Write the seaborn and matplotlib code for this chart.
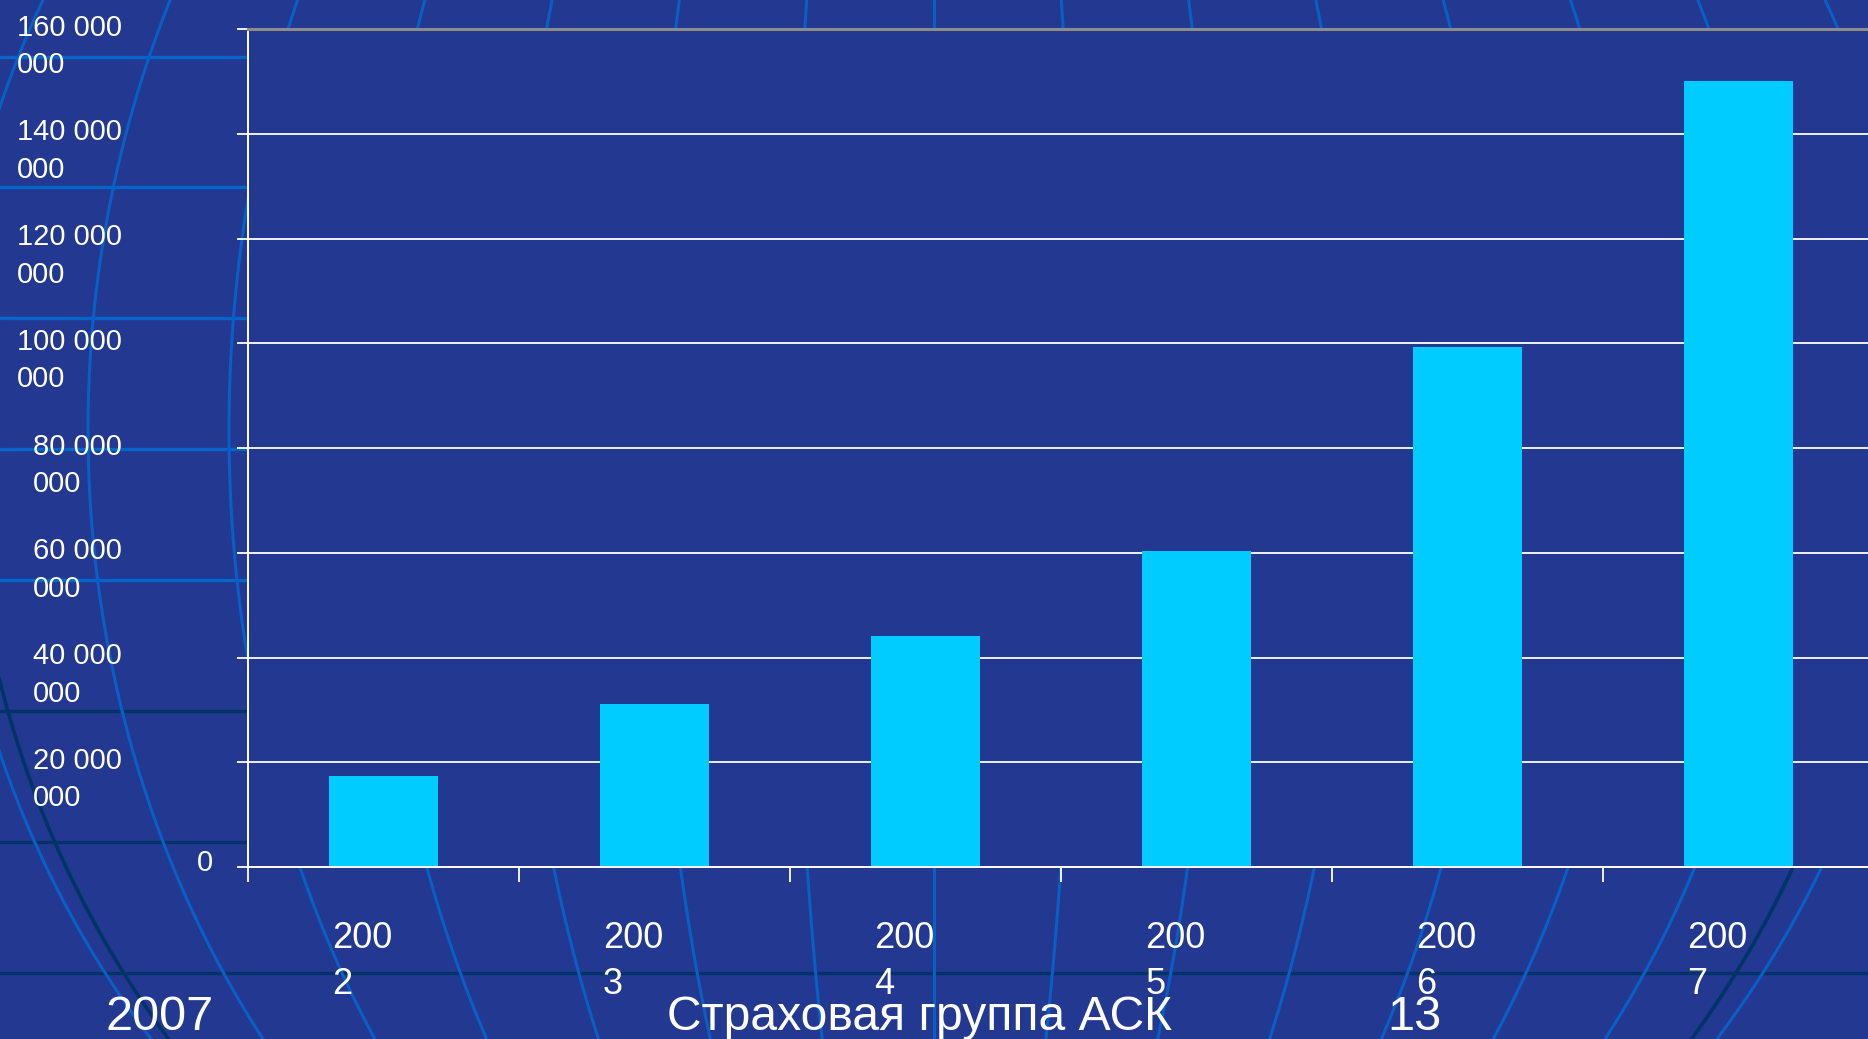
import numpy as np
import pandas as pd
import seaborn as sns
import matplotlib
matplotlib.use("Agg")
import matplotlib.pyplot as plt

# данные диаграммы
years = ["2002", "2003", "2004", "2005", "2006", "2007"]
values = [17_400_000, 31_100_000, 44_100_000, 60_400_000, 99_300_000, 150_000_000]
y_ticks = [0, 20_000_000, 40_000_000, 60_000_000, 80_000_000,
           100_000_000, 120_000_000, 140_000_000, 160_000_000]
footer_left = "2007"
footer_mid = "Страховая группа АСК"
footer_right = "13"

BG = "#233890"
BAR = "#00CCFF"

sns.set_theme(style="white")
plt.rcParams['font.family'] = ['Liberation Sans', 'DejaVu Sans']

W, H = 1868, 1039
fig = plt.figure(figsize=(W / 100, H / 100), dpi=100, facecolor=BG)

# фон слайда: "глобус" из линий
bg = fig.add_axes([0, 0, 1, 1], zorder=0)
bg.set_xlim(0, W)
bg.set_ylim(H, 0)
bg.axis("off")
bg.set_facecolor(BG)
for yy, col in [(57, "#0066cc"), (187, "#0066cc"), (318, "#0066cc"), (449, "#0066cc"),
                (580, "#0066cc"), (711, "#003468"), (842, "#003468"), (973, "#003468")]:
    bg.axhline(yy, color=col, lw=2.4)
ys = np.linspace(0, H, 300)
f = np.sqrt(1 - ((ys - 430) / 1000) ** 2)
for d in np.arange(-7, 8) * 141:
    bg.plot(934 + d * f, ys, color="#0a5ec4", lw=2.2)
m = ys > 560
bg.plot(934 - 965 * f[m], ys[m], color="#003468", lw=2.6)
m = ys > 650
bg.plot(934 + 955 * f[m], ys[m], color="#003468", lw=2.6)

# сама диаграмма
ax = fig.add_axes([248 / W, (H - 867) / H, 1626 / W, 838 / H], zorder=1)
ax.set_facecolor(BG)
df = pd.DataFrame({"year": years, "value": values})
sns.barplot(data=df, x="year", y="value", color=BAR, saturation=1,
            width=0.4, linewidth=0, ax=ax)

ax.set_xlim(-0.5, 5.5)
ax.set_ylim(0, 160_000_000)
ax.set_axisbelow(True)
ax.yaxis.grid(True, color="white", lw=1.3)
ax.xaxis.grid(False)
ax.set_xlabel("")
ax.set_ylabel("")

for s in ["left", "bottom"]:
    ax.spines[s].set_color("white")
    ax.spines[s].set_linewidth(1.4)
ax.spines["top"].set_color("#8c8c8c")
ax.spines["top"].set_linewidth(2.2)
ax.spines["right"].set_visible(False)

ax.set_yticks(y_ticks)
ax.set_yticklabels([])
ax.set_xticks(np.arange(-0.5, 6, 1))
ax.set_xticklabels([])
ax.tick_params(axis="y", direction="out", length=8, width=1.3, color="white", left=True)
ax.tick_params(axis="x", direction="out", length=11, width=1.3, color="white", bottom=True)

# подписи оси Y (перенос на две строки, как в оригинале)
for v in y_ticks:
    s = f"{v:,}".replace(",", " ")
    if v == 0:
        ax.annotate(s, xy=(-0.0215, v), xycoords=ax.get_yaxis_transform(),
                    xytext=(0, 3), textcoords="offset points",
                    ha="right", va="center", fontsize=21, color="white")
    else:
        a, b = s.rsplit(" ", 1)
        ax.annotate(a + "\n" + b, xy=(-0.0775, v), xycoords=ax.get_yaxis_transform(),
                    xytext=(0, 11), textcoords="offset points",
                    ha="right", va="top", ma="left", linespacing=1.43,
                    fontsize=21, color="white")

# подписи оси X
for i, y in enumerate(years):
    ax.annotate(y[:3] + "\n" + y[3:], xy=(i - 0.19, 0), xycoords=("data", "axes fraction"),
                xytext=(0, -39), textcoords="offset points",
                ha="left", va="top", ma="left", linespacing=1.39,
                fontsize=26, color="white")

# нижний колонтитул
fy = (H - 1030) / H
fig.text(106 / W, fy, footer_left, fontsize=35, color="white", va="baseline")
fig.text(667 / W, fy, footer_mid, fontsize=34.6, color="white", va="baseline")
fig.text(1387 / W, fy, footer_right, fontsize=35, color="white", va="baseline")

fig.savefig("out.png", dpi=100, facecolor=BG)
